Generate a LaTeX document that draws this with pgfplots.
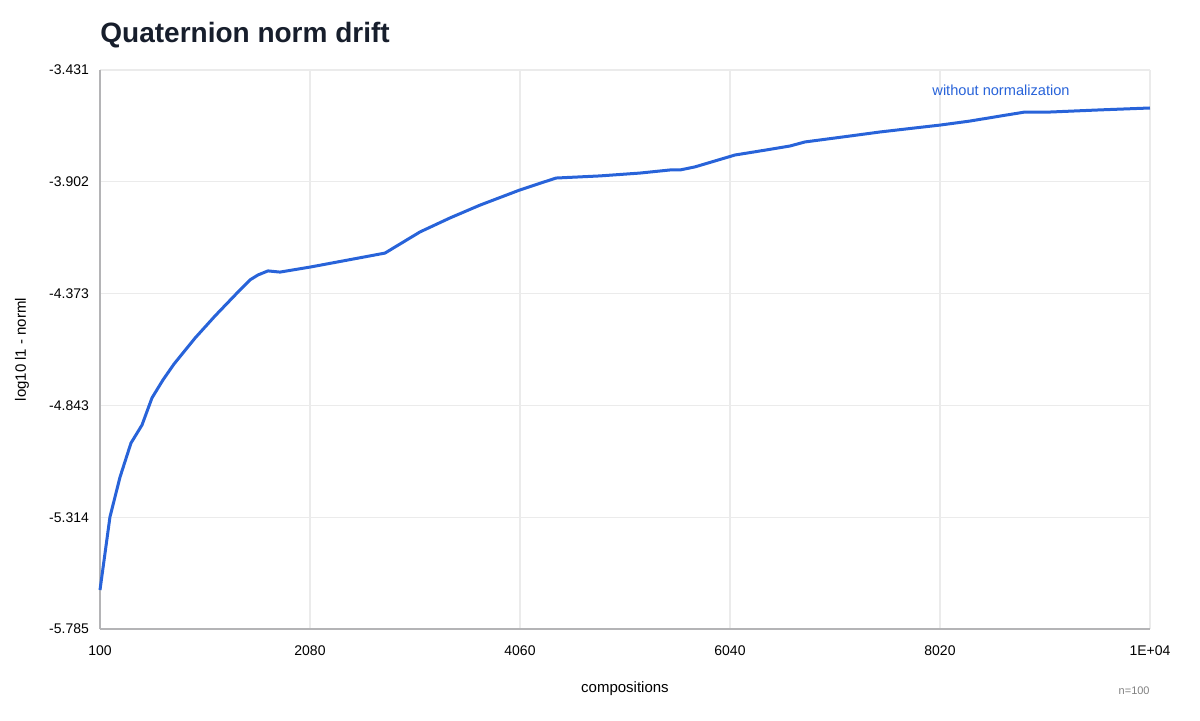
\documentclass[border=0pt]{standalone}
\usepackage{pgfplots}
\pgfplotsset{compat=1.18}
\usepackage{fontspec}
\setmainfont{Liberation Sans}
\definecolor{linecol}{RGB}{40,99,217}
\definecolor{gridcol}{RGB}{235,235,235}
\definecolor{axcol}{RGB}{180,180,182}
\definecolor{titlecol}{RGB}{23,30,44}
\begin{document}
\begin{tikzpicture}
\path[use as bounding box] (-50pt,-45.5pt) rectangle (550pt,314.5pt);
\begin{axis}[
  at={(0,0)}, anchor=south west,
  scale only axis, width=525pt, height=279.5pt,
  xmin=100, xmax=10000, ymin=-5.785, ymax=-3.431,
  xtick={100,2080,4060,6040,8020,10000},
  xticklabels={100,2080,4060,6040,8020,1E+04},
  scaled x ticks=false, scaled y ticks=false,
  ytick={-5.785,-5.3142,-4.8434,-4.3726,-3.9018,-3.431},
  yticklabels={-5.785,-5.314,-4.843,-4.373,-3.902,-3.431},
  tick style={draw=none},
  major tick length=0pt,
  grid=major,
  major grid style={gridcol, line width=0.6pt},
  axis line style={draw=none},
  tick label style={font=\fontsize{7pt}{8pt}\selectfont, text=black},
  xticklabel style={yshift=-5pt},
  yticklabel style={xshift=-2pt},
  xlabel={compositions},
  ylabel={log10 l1 - norml},
  xlabel style={font=\fontsize{7.5pt}{9pt}\selectfont, at={(axis description cs:0.5,0)}, anchor=center, yshift=-30pt},
  ylabel style={font=\fontsize{7.5pt}{9pt}\selectfont, at={(axis description cs:-0.0743,0.5)}, anchor=center},
  clip=false,
]
\draw[axcol, line width=0.8pt] (rel axis cs:0,0) -- (rel axis cs:1,0);
\draw[axcol, line width=0.8pt] (rel axis cs:0,0) -- (rel axis cs:0,1);
\addplot[linecol, line width=1.5pt, line join=round] coordinates {
(100,-5.621) (194,-5.313) (289,-5.145) (392,-5.002) (496,-4.926) (590,-4.812)
(694,-4.736) (798,-4.669) (996,-4.560) (1184,-4.467) (1373,-4.379) (1514,-4.315)
(1590,-4.294) (1684,-4.277) (1797,-4.282) (2080,-4.261) (2787,-4.202) (3117,-4.113)
(3400,-4.054) (3683,-4.000) (4060,-3.936) (4399,-3.886) (4814,-3.877) (5191,-3.865)
(5474,-3.852) (5569,-3.852) (5710,-3.839) (6087,-3.789) (6323,-3.772) (6606,-3.751)
(6747,-3.734) (7171,-3.709) (7454,-3.692) (7784,-3.675) (8020,-3.663) (8303,-3.646)
(8586,-3.625) (8821,-3.608) (9057,-3.608) (9529,-3.599) (10000,-3.591)
};
\node[anchor=east, inner sep=0pt, text=linecol, font=\fontsize{7.3pt}{8pt}\selectfont] at (axis cs:9246,-3.515) {without normalization};
\end{axis}
\node[anchor=west, inner sep=0pt, text=titlecol, font=\fontsize{14pt}{16pt}\selectfont\bfseries] at (0pt,297pt) {Quaternion norm drift};
\node[anchor=east, inner sep=0pt, text=gray, font=\fontsize{5.5pt}{7pt}\selectfont] at (525pt,-31pt) {n=100};
\end{tikzpicture}
\end{document}
